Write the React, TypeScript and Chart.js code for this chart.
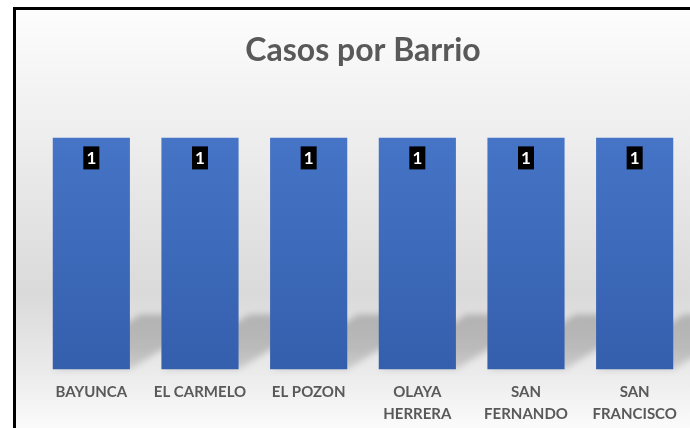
import { useEffect, useRef } from "react";
import { Chart, registerables } from "chart.js";

Chart.register(...registerables);

const categories: string[][] = [
  ["BAYUNCA"],
  ["EL CARMELO"],
  ["EL POZON"],
  ["OLAYA", "HERRERA"],
  ["SAN", "FERNANDO"],
  ["SAN", "FRANCISCO"],
];
const casos: number[] = [1, 1, 1, 1, 1, 1];
const chartTitle = "Casos por Barrio";

const FONT = "Lato, 'Open Sans', sans-serif";
const CANVAS_H = 437;

const backgroundPlugin = {
  id: "bgFrame",
  beforeDraw(chart: any) {
    const { ctx, width } = chart;
    const height = 428;
    ctx.save();
    ctx.fillStyle = "#ffffff";
    ctx.fillRect(0, 0, width, CANVAS_H);
    const g = ctx.createLinearGradient(0, 9, 0, height);
    g.addColorStop(0, "#fdfdfd");
    g.addColorStop(0.3, "#eeeeee");
    g.addColorStop(0.68, "#dadada");
    g.addColorStop(0.86, "#eaeaea");
    g.addColorStop(1, "#fbfbfb");
    ctx.fillStyle = g;
    ctx.fillRect(15, 9, width, CANVAS_H);
    ctx.strokeStyle = "#000000";
    ctx.lineWidth = 3;
    ctx.strokeRect(14.5, 8.5, width + 20, CANVAS_H + 20);
    ctx.restore();
  },
};

const shadowPlugin = {
  id: "barShadow",
  beforeDatasetsDraw(chart: any) {
    const { ctx } = chart;
    const meta = chart.getDatasetMeta(0);
    ctx.save();
    ctx.filter = "blur(3px)";
    meta.data.forEach((bar: any) => {
      const half = bar.width / 2;
      const left = bar.x - half;
      const right = bar.x + half;
      const base = bar.base;
      const dx = 88;
      const dy = 55;
      const g = ctx.createLinearGradient(0, base - dy, 0, base);
      g.addColorStop(0, "rgba(0,0,0,0.2)");
      g.addColorStop(0.6, "rgba(0,0,0,0.19)");
      g.addColorStop(1, "rgba(0,0,0,0.12)");
      ctx.fillStyle = g;
      ctx.beginPath();
      ctx.moveTo(left, base);
      ctx.lineTo(right, base);
      ctx.lineTo(right + dx, base - dy);
      ctx.lineTo(left + dx, base - dy);
      ctx.closePath();
      ctx.fill();
    });
    ctx.restore();
  },
};

const labelPlugin = {
  id: "boxLabels",
  afterDatasetsDraw(chart: any) {
    const { ctx } = chart;
    const meta = chart.getDatasetMeta(0);
    const data = chart.data.datasets[0].data;
    ctx.save();
    ctx.font = `bold 17px ${FONT}`;
    ctx.textAlign = "center";
    ctx.textBaseline = "middle";
    meta.data.forEach((bar: any, i: number) => {
      const w = 16;
      const h = 23;
      const top = bar.y + 9;
      ctx.fillStyle = "#000000";
      ctx.fillRect(bar.x - w / 2, top, w, h);
      ctx.fillStyle = "#ffffff";
      ctx.fillText(String(data[i]), bar.x, top + h / 2 + 1);
    });
    ctx.restore();
  },
};

export default function App() {
  const ref = useRef<HTMLCanvasElement | null>(null);

  useEffect(() => {
    if (!ref.current) return;
    const chart = new Chart(ref.current, {
      type: "bar",
      data: {
        labels: categories,
        datasets: [
          {
            data: casos,
            backgroundColor: (c: any) => {
              const area = c.chart.chartArea;
              if (!area) return "#4472c4";
              const g = c.chart.ctx.createLinearGradient(0, area.top, 0, area.bottom);
              g.addColorStop(0, "#4674c6");
              g.addColorStop(1, "#345fad");
              return g;
            },
            borderWidth: 0,
            barPercentage: 0.71,
            categoryPercentage: 1,
          },
        ],
      },
      options: {
        responsive: false,
        animation: false,
        layout: { padding: { left: 37, right: 1, top: 0, bottom: 0 } },
        plugins: {
          legend: { display: false },
          tooltip: { enabled: false },
          title: {
            display: true,
            text: chartTitle,
            color: "#595959",
            font: { family: FONT, size: 32, weight: "bold", lineHeight: 1.2 },
            padding: { top: 31, bottom: 68 },
          },
        },
        scales: {
          x: {
            grid: { display: false, drawTicks: false },
            border: { display: false },
            ticks: {
              color: "#595959",
              font: { family: FONT, size: 15, weight: "bold", lineHeight: 1.45 },
              padding: 12,
              maxRotation: 0,
              autoSkip: false,
            },
          },
          y: {
            display: false,
            min: 0,
            max: 1,
          },
        },
      },
      plugins: [backgroundPlugin, shadowPlugin, labelPlugin],
    });
    return () => chart.destroy();
  }, []);

  return (
    <div style={{ position: "fixed", left: 0, top: 0, width: 690, height: 428, overflow: "hidden" }}>
      <canvas ref={ref} width={690} height={CANVAS_H} style={{ display: "block" }} />
    </div>
  );
}
